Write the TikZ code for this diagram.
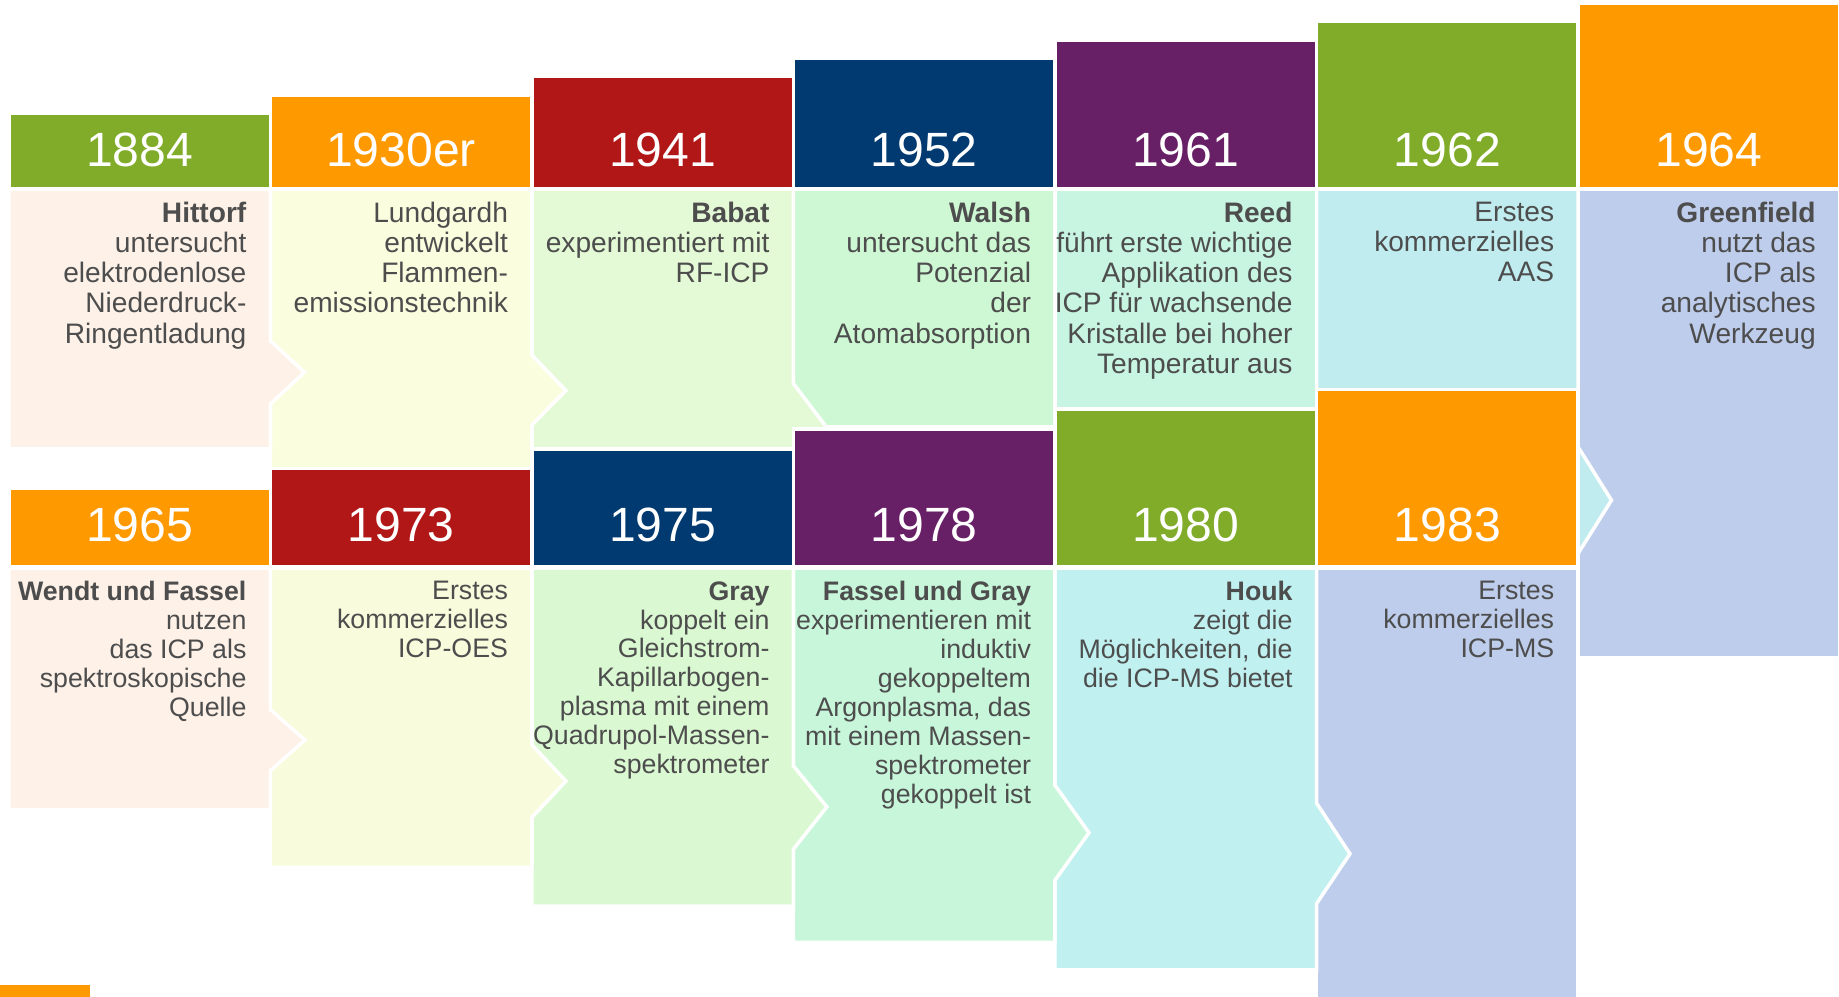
\documentclass[tikz,border=0pt]{standalone}
\usepackage{fontspec}
\setmainfont{Liberation Sans}
\definecolor{leaf}{HTML}{80AC2A}
\definecolor{amber}{HTML}{FF9900}
\definecolor{brick}{HTML}{B01716}
\definecolor{navy}{HTML}{003A70}
\definecolor{plum}{HTML}{672066}
\definecolor{txt}{HTML}{4D4D4D}
\definecolor{peach}{HTML}{FDF1E8}
\definecolor{cream}{HTML}{FBFDDF}
\definecolor{creamlow}{HTML}{F8FCDC}
\definecolor{lime}{HTML}{E4FAD6}
\definecolor{limelow}{HTML}{DAF9D2}
\definecolor{mint}{HTML}{CEF8D4}
\definecolor{mintlow}{HTML}{C8F6DA}
\definecolor{seafoam}{HTML}{C8F5E1}
\definecolor{ice}{HTML}{C0ECF0}
\definecolor{icelow}{HTML}{C0F1F0}
\definecolor{lavender}{HTML}{BECDEB}

\tikzset{
  header/.style={fill=#1, draw=white, line width=1.5pt},
  panel/.style={fill=#1, draw=white, line width=1.5pt},
  year/.style={text=white, inner sep=0pt, font=\fontsize{20.5}{24}\selectfont},
  note/.style={text=txt, align=right, inner sep=0pt, anchor=north east,
               font=\fontsize{12}{12.85}\selectfont},
  lownote/.style={note, font=\fontsize{11.4}{12.35}\selectfont}
}

\begin{document}
\begin{tikzpicture}[x=0.5pt, y=-0.5pt]
  \useasboundingbox (0,0) rectangle (1568,850);

  % Upper row: panels, right to left so each arrow tip lies on its neighbour
  \path[panel=lavender] (1345.5,161.2) rectangle (1568.5,560.5);
  \path[panel=ice] (1122.5,161.2) -- (1345.5,161.2) -- (1345.5,381) -- (1374,426.5)
    -- (1345.5,472) -- (1345.5,476) -- (1122.5,476) -- cycle;
  \path[panel=seafoam] (899.5,161.2) rectangle (1122.5,400);
  \path[panel=mint] (676.5,161.2) rectangle (899.5,363.5);
  \path[panel=lime] (453.5,161.2) -- (676.5,161.2) -- (676.5,327) -- (706,366)
    -- (676.5,405) -- (676.5,440) -- (453.5,440) -- cycle;
  \path[panel=cream] (230.5,161.2) -- (453.5,161.2) -- (453.5,302.7) -- (482.5,333)
    -- (453.5,362.4) -- (453.5,440) -- (230.5,440) -- cycle;
  \path[panel=peach] (7.5,161.2) -- (230.5,161.2) -- (230.5,290.5) -- (259.5,317.5)
    -- (230.5,344.5) -- (230.5,382.5) -- (7.5,382.5) -- cycle;

  % Upper row: year headers
  \foreach \i/\yr/\hue in {0/1884/leaf, 1/1930er/amber, 2/1941/brick, 3/1952/navy,
                           4/1961/plum, 5/1962/leaf, 6/1964/amber} {
    \pgfmathsetmacro{\xl}{7.5+223*\i}
    \pgfmathsetmacro{\yt}{96.5-15.6*\i}
    \path[header=\hue] (\xl,\yt) rectangle ({\xl+223},161.2);
    \node[year] (y\yr) at ({\xl+111.5},127.5) {\yr};
  }

  % Upper row: texts
  \node[note] (t1884) at (210.5,171.9) {\textbf{Hittorf}\\untersucht\\elektrodenlose\\Niederdruck-\\Ringentladung};
  \node[note] (t1930) at (433.5,171.9) {Lundgardh\\entwickelt\\Flammen-\\emissionstechnik};
  \node[note] (t1941) at (656.5,171.9) {\textbf{Babat}\\experimentiert mit\\RF-ICP};
  \node[note] (t1952) at (879.5,171.9) {\textbf{Walsh}\\untersucht das\\Potenzial\\der\\Atomabsorption};
  \node[note] (t1961) at (1102.5,171.9) {\textbf{Reed}\\führt erste wichtige\\Applikation des\\ICP für wachsende\\Kristalle bei hoher\\Temperatur aus};
  \node[note] (t1962) at (1325.5,171.9) {Erstes\\kommerzielles\\AAS};
  \node[note] (t1964) at (1548.5,171.9) {\textbf{Greenfield}\\nutzt das\\ICP als\\analytisches\\Werkzeug};

  % Lower row: panels
  \path[panel=lavender] (1122.5,484.5) rectangle (1345.5,853);
  \path[panel=icelow] (899.5,484.5) -- (1122.5,484.5) -- (1122.5,684.7) -- (1151,728)
    -- (1122.5,770.5) -- (1122.5,827) -- (899.5,827) -- cycle;
  \path[panel=mintlow] (676.5,484.5) -- (899.5,484.5) -- (899.5,669.5) -- (928.5,710)
    -- (899.5,750.5) -- (899.5,803.5) -- (676.5,803.5) -- cycle;
  \path[panel=limelow] (453.5,484.5) -- (676.5,484.5) -- (676.5,653) -- (705,688)
    -- (676.5,724) -- (676.5,772.5) -- (453.5,772.5) -- cycle;
  \path[panel=creamlow] (230.5,484.5) -- (453.5,484.5) -- (453.5,635) -- (482.5,666)
    -- (453.5,697) -- (453.5,739.5) -- (230.5,739.5) -- cycle;
  \path[panel=peach] (7.5,484.5) -- (230.5,484.5) -- (230.5,605) -- (260,631)
    -- (230.5,657) -- (230.5,690.5) -- (7.5,690.5) -- cycle;

  % Lower row: year headers
  \foreach \i/\yr/\hue in {0/1965/amber, 1/1973/brick, 2/1975/navy, 3/1978/plum,
                           4/1980/leaf, 5/1983/amber} {
    \pgfmathsetmacro{\xl}{7.5+223*\i}
    \pgfmathsetmacro{\yt}{416.5-16.9*\i}
    \path[header=\hue] (\xl,\yt) rectangle ({\xl+223},483.5);
    \node[year] (y\yr) at ({\xl+111.5},448) {\yr};
  }

  % Lower row: texts
  \node[lownote] (t1965) at (210.5,495.3) {\textbf{Wendt und Fassel}\\nutzen\\das ICP als\\spektroskopische\\Quelle};
  \node[lownote] (t1973) at (433.5,495.3) {Erstes\\kommerzielles\\ICP-OES};
  \node[lownote] (t1975) at (656.5,495.3) {\textbf{Gray}\\koppelt ein\\Gleichstrom-\\Kapillarbogen-\\plasma mit einem\\Quadrupol-Massen-\\spektrometer};
  \node[lownote] (t1978) at (879.5,495.3) {\textbf{Fassel und Gray}\\experimentieren mit\\induktiv\\gekoppeltem\\Argonplasma, das\\mit einem Massen-\\spektrometer\\gekoppelt ist};
  \node[lownote] (t1980) at (1102.5,495.3) {\textbf{Houk}\\zeigt die\\Möglichkeiten, die\\die ICP-MS bietet};
  \node[lownote] (t1983) at (1325.5,495.3) {Erstes\\kommerzielles\\ICP-MS};

  % orange strip at the lower edge
  \path[fill=amber] (0,839.5) rectangle (77,850);
\end{tikzpicture}
\end{document}
